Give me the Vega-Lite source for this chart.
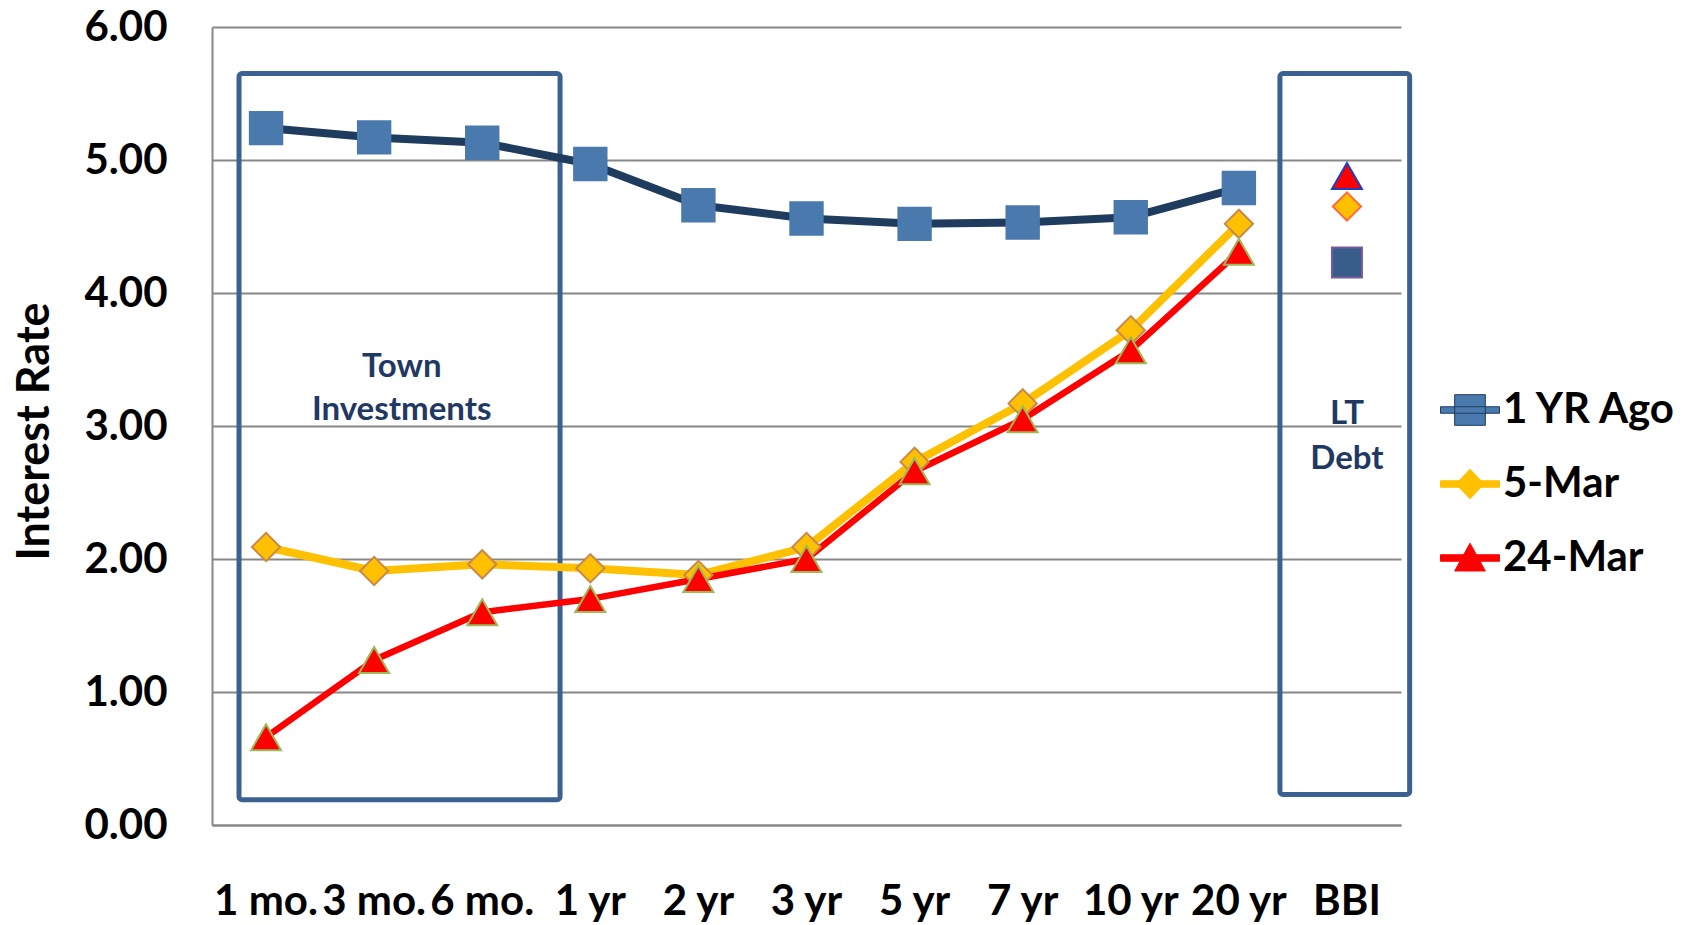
{
  "$schema": "https://vega.github.io/schema/vega-lite/v6.json",
  "width": 1189,
  "height": 798,
  "autosize": "none",
  "padding": {"left": 212, "top": 27, "right": 290, "bottom": 100},
  "background": "white",
  "config": {
    "font": "Lato",
    "view": {"stroke": null}
  },
  "datasets": {
    "rates": [
      {"tenor": "1 mo.", "series": "1 YR Ago", "rate": 5.24},
      {"tenor": "3 mo.", "series": "1 YR Ago", "rate": 5.17},
      {"tenor": "6 mo.", "series": "1 YR Ago", "rate": 5.13},
      {"tenor": "1 yr", "series": "1 YR Ago", "rate": 4.97},
      {"tenor": "2 yr", "series": "1 YR Ago", "rate": 4.66},
      {"tenor": "3 yr", "series": "1 YR Ago", "rate": 4.56},
      {"tenor": "5 yr", "series": "1 YR Ago", "rate": 4.52},
      {"tenor": "7 yr", "series": "1 YR Ago", "rate": 4.53},
      {"tenor": "10 yr", "series": "1 YR Ago", "rate": 4.57},
      {"tenor": "20 yr", "series": "1 YR Ago", "rate": 4.79},
      {"tenor": "BBI", "series": "1 YR Ago", "rate": 4.23},
      {"tenor": "1 mo.", "series": "5-Mar", "rate": 2.09},
      {"tenor": "3 mo.", "series": "5-Mar", "rate": 1.91},
      {"tenor": "6 mo.", "series": "5-Mar", "rate": 1.96},
      {"tenor": "1 yr", "series": "5-Mar", "rate": 1.93},
      {"tenor": "2 yr", "series": "5-Mar", "rate": 1.88},
      {"tenor": "3 yr", "series": "5-Mar", "rate": 2.09},
      {"tenor": "5 yr", "series": "5-Mar", "rate": 2.73},
      {"tenor": "7 yr", "series": "5-Mar", "rate": 3.17},
      {"tenor": "10 yr", "series": "5-Mar", "rate": 3.72},
      {"tenor": "20 yr", "series": "5-Mar", "rate": 4.52},
      {"tenor": "BBI", "series": "5-Mar", "rate": 4.65},
      {"tenor": "1 mo.", "series": "24-Mar", "rate": 0.66},
      {"tenor": "3 mo.", "series": "24-Mar", "rate": 1.24},
      {"tenor": "6 mo.", "series": "24-Mar", "rate": 1.6},
      {"tenor": "1 yr", "series": "24-Mar", "rate": 1.7},
      {"tenor": "2 yr", "series": "24-Mar", "rate": 1.85},
      {"tenor": "3 yr", "series": "24-Mar", "rate": 2.0},
      {"tenor": "5 yr", "series": "24-Mar", "rate": 2.66},
      {"tenor": "7 yr", "series": "24-Mar", "rate": 3.05},
      {"tenor": "10 yr", "series": "24-Mar", "rate": 3.57},
      {"tenor": "20 yr", "series": "24-Mar", "rate": 4.31},
      {"tenor": "BBI", "series": "24-Mar", "rate": 4.88}
    ]
  },
  "layer": [
    {
      "data": {"values": [{"from": "1 mo.", "to": "1 yr", "top": 5.65, "bottom": 0.19}]},
      "mark": {"type": "rect", "filled": false, "stroke": "#3B6193", "strokeWidth": 5, "cornerRadius": 3},
      "encoding": {
        "x": {
          "field": "from",
          "type": "nominal",
          "bandPosition": 0.25,
          "scale": {
            "type": "band",
            "domain": ["1 mo.", "3 mo.", "6 mo.", "1 yr", "2 yr", "3 yr", "5 yr", "7 yr", "10 yr", "20 yr", "BBI"],
            "paddingInner": 0,
            "paddingOuter": 0
          },
          "axis": {
            "title": null,
            "labelAngle": 0,
            "labelFont": "Lato",
            "labelFontSize": 42,
            "labelFontWeight": "bold",
            "labelColor": "black",
            "labelOverlap": false,
            "labelLimit": 300,
            "labelBaseline": "alphabetic",
            "labelPadding": 89,
            "ticks": false,
            "tickSize": 0,
            "grid": false,
            "domainColor": "#878787",
            "domainWidth": 2
          }
        },
        "x2": {"field": "to", "bandPosition": 0.22},
        "y": {
          "field": "top",
          "type": "quantitative",
          "scale": {"domain": [0, 6], "nice": false},
          "axis": {
            "values": [0, 1, 2, 3, 4, 5, 6],
            "format": ".2f",
            "title": "Interest Rate",
            "grid": true,
            "gridColor": "#878787",
            "gridWidth": 2,
            "domainColor": "#878787",
            "domainWidth": 2,
            "ticks": false,
            "tickSize": 0,
            "labelFont": "Lato",
            "labelFontSize": 42,
            "labelFontWeight": "bold",
            "labelColor": "black",
            "labelPadding": 45,
            "titleFont": "Lato",
            "titleFontSize": 45,
            "titleFontWeight": "bold",
            "titleColor": "black",
            "titleAngle": -90,
            "titleX": -178,
            "titleY": 404,
            "titleAlign": "center",
            "titleBaseline": "middle"
          }
        },
        "y2": {"field": "bottom"}
      }
    },
    {
      "data": {"values": [{"from": "20 yr", "to": "BBI", "top": 5.65, "bottom": 0.23}]},
      "mark": {"type": "rect", "filled": false, "stroke": "#3B6193", "strokeWidth": 5, "cornerRadius": 3},
      "encoding": {
        "x": {"field": "from", "type": "nominal", "bandPosition": 0.88},
        "x2": {"field": "to", "bandPosition": 1.08},
        "y": {"field": "top", "type": "quantitative"},
        "y2": {"field": "bottom"}
      }
    },
    {
      "data": {"values": [
        {"label": "Town", "tenor": "3 mo.", "rate": 3.44},
        {"label": "Investments", "tenor": "3 mo.", "rate": 3.12}
      ]},
      "mark": {"type": "text", "fontSize": 33, "fontWeight": "bold", "color": "#1F3864", "align": "center", "baseline": "middle"},
      "encoding": {
        "x": {"field": "tenor", "type": "nominal", "bandPosition": 0.755},
        "y": {"field": "rate", "type": "quantitative"},
        "text": {"field": "label"}
      }
    },
    {
      "data": {"values": [
        {"label": "LT", "tenor": "BBI", "rate": 3.09},
        {"label": "Debt", "tenor": "BBI", "rate": 2.75}
      ]},
      "mark": {"type": "text", "fontSize": 33, "fontWeight": "bold", "color": "#1F3864", "align": "center", "baseline": "middle"},
      "encoding": {
        "x": {"field": "tenor", "type": "nominal"},
        "y": {"field": "rate", "type": "quantitative"},
        "text": {"field": "label"}
      }
    },
    {
      "data": {"name": "rates"},
      "transform": [{"filter": "datum.tenor !== 'BBI'"}],
      "mark": {"type": "line", "strokeJoin": "round", "strokeCap": "round"},
      "encoding": {
        "x": {"field": "tenor", "type": "nominal", "sort": ["1 mo.", "3 mo.", "6 mo.", "1 yr", "2 yr", "3 yr", "5 yr", "7 yr", "10 yr", "20 yr", "BBI"]},
        "y": {"field": "rate", "type": "quantitative"},
        "strokeWidth": {"condition": {"test": "datum.series === '24-Mar'", "value": 6.5}, "value": 8},
        "color": {
          "field": "series",
          "type": "nominal",
          "sort": ["1 YR Ago", "5-Mar", "24-Mar"],
          "scale": {"domain": ["1 YR Ago", "5-Mar", "24-Mar"], "range": ["#1F3B5E", "#FFC000", "#FF0000"]},
          "legend": {
            "title": null,
            "orient": "none",
            "legendX": 1228,
            "legendY": 353,
            "padding": 0,
            "symbolSize": 3481,
            "rowPadding": 23,
            "labelOffset": 3,
            "labelFont": "Lato",
            "labelFontSize": 42,
            "labelFontWeight": "bold",
            "labelColor": "black",
            "labelLimit": 400,
            "encode": {
              "symbols": {
                "update": {
                  "shape": {"signal": "datum.value === '1 YR Ago' ? 'M-1,-0.11L1,-0.11L1,0.11L-1,0.11Z M-0.52,-0.52L0.52,-0.52L0.52,0.52L-0.52,0.52Z' : datum.value === '5-Mar' ? 'M-1,-0.11L1,-0.11L1,0.11L-1,0.11Z M0,-0.5L0.48,0L0,0.5L-0.48,0Z' : 'M-1,-0.11L1,-0.11L1,0.11L-1,0.11Z M0,-0.5L0.52,0.44L-0.52,0.44Z'"},
                  "fill": {"signal": "datum.value === '1 YR Ago' ? '#4A7AAD' : datum.value === '5-Mar' ? '#FFC000' : '#FF0000'"},
                  "stroke": {"signal": "datum.value === '1 YR Ago' ? '#4A7AAD' : datum.value === '5-Mar' ? '#FFC000' : '#FF0000'"},
                  "strokeWidth": {"value": 1},
                  "opacity": {"value": 1},
                  "fillOpacity": {"value": 1}
                }
              }
            }
          }
        }
      }
    },
    {
      "data": {"name": "rates"},
      "transform": [{"filter": "datum.series === '1 YR Ago'"}],
      "mark": {"type": "point", "shape": "square", "filled": true, "opacity": 1, "strokeWidth": 2},
      "encoding": {
        "x": {"field": "tenor", "type": "nominal"},
        "y": {"field": "rate", "type": "quantitative"},
        "fill": {"condition": {"test": "datum.tenor === 'BBI'", "value": "#385D8A"}, "value": "#4A7AAD"},
        "stroke": {"condition": {"test": "datum.tenor === 'BBI'", "value": "#7A5A9A"}, "value": "#4A7AAD"},
        "size": {"condition": {"test": "datum.tenor === 'BBI'", "value": 900}, "value": 1050}
      }
    },
    {
      "data": {"name": "rates"},
      "transform": [{"filter": "datum.series === '5-Mar'"}],
      "mark": {"type": "point", "shape": "diamond", "filled": true, "opacity": 1, "strokeWidth": 2, "size": 800},
      "encoding": {
        "x": {"field": "tenor", "type": "nominal"},
        "y": {"field": "rate", "type": "quantitative"},
        "fill": {"value": "#FFC000"},
        "stroke": {"condition": {"test": "datum.tenor === 'BBI'", "value": "#FF6A3D"}, "value": "#C8894A"}
      }
    },
    {
      "data": {"name": "rates"},
      "transform": [{"filter": "datum.series === '24-Mar'"}],
      "mark": {"type": "point", "shape": "triangle-up", "filled": true, "opacity": 1, "strokeWidth": 2, "size": 900},
      "encoding": {
        "x": {"field": "tenor", "type": "nominal"},
        "y": {"field": "rate", "type": "quantitative"},
        "fill": {"value": "#FF0000"},
        "stroke": {"condition": {"test": "datum.tenor === 'BBI'", "value": "#1F3FBF"}, "value": "#9BBB59"}
      }
    }
  ]
}
